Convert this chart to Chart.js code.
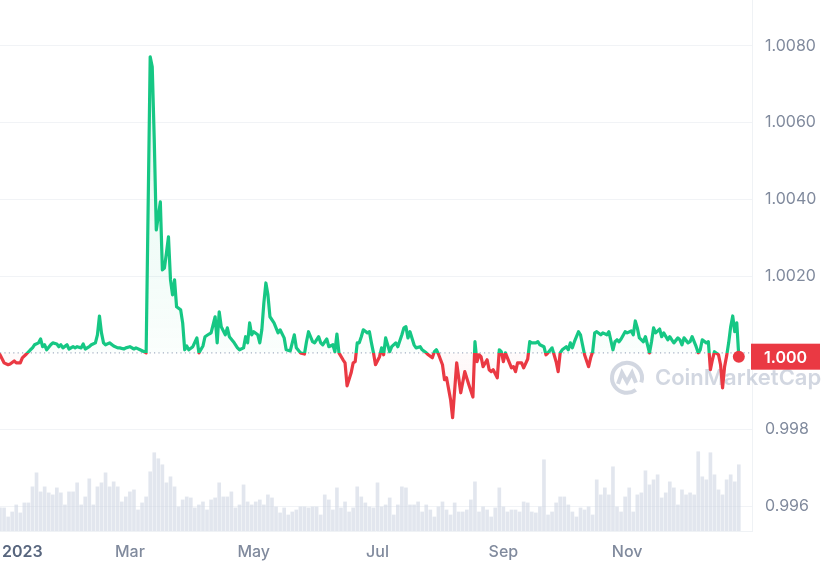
<!DOCTYPE html>
<html>
<head>
<meta charset="utf-8">
<script src="https://cdn.jsdelivr.net/npm/chart.js@4.4.0/dist/chart.umd.min.js"></script>
<style>
  html, body { margin: 0; padding: 0; background: #fff; }
</style>
</head>
<body>
<canvas id="priceChart" width="829" height="570"></canvas>
<script>
// Price history, day 0 = 1 Jan 2023
const baseline = 1.000;

const priceDays = [
  -5, -3, -1, 0, 2, 3, 5, 6, 8, 10,
  11, 12, 14, 15, 16, 17, 18, 20, 21, 23,
  24, 25, 26, 28, 29, 31, 32, 33, 35, 36,
  37, 39, 40, 42, 43, 44, 45, 46, 47, 49,
  51, 53, 54, 56, 57, 59, 61, 62, 64, 66,
  67, 69, 70, 71, 72, 74, 75, 76, 77, 78,
  79, 80, 81, 82, 84, 85, 86, 87, 88, 90,
  92, 93, 95, 96, 98, 99, 101, 102, 103, 104,
  106, 107, 108, 110, 112, 113, 115, 116, 117, 118,
  119, 120, 122, 123, 124, 125, 126, 127, 128, 130,
  132, 133, 135, 136, 138, 140, 141, 143, 145, 146,
  147, 149, 150, 152, 153, 154, 156, 157, 159, 160,
  161, 162, 164, 165, 166, 168, 169, 170, 171, 172,
  173, 174, 176, 177, 178, 179, 180, 182, 183, 184,
  185, 187, 188, 190, 191, 193, 194, 195, 196, 197,
  199, 200, 202, 203, 205, 206, 208, 209, 210, 211,
  213, 214, 215, 217, 218, 220, 222, 224, 226, 228,
  229, 230, 231, 232, 233, 235, 236, 237, 238, 240,
  241, 242, 243, 244, 246, 247, 248, 249, 250, 252,
  253, 255, 256, 257, 259, 260, 261, 263, 264, 265,
  267, 269, 270, 271, 272, 274, 275, 276, 277, 278,
  280, 281, 282, 283, 285, 286, 287, 288, 289, 291,
  292, 294, 295, 297, 298, 299, 300, 301, 303, 304,
  306, 307, 308, 309, 310, 312, 313, 315, 316, 317,
  318, 320, 321, 322, 324, 325, 326, 327, 329, 330,
  331, 332, 334, 335, 336, 338, 339, 340, 341, 343,
  344, 345, 346, 347, 349, 350, 351, 352, 353, 354,
  355, 356, 357, 358, 359
];

const prices = [
  0.99995, 0.99974, 0.99969, 0.99971, 0.99979, 0.99974, 0.99974, 0.99987, 0.99997, 1.00008,
  1.00013, 1.00021, 1.00026, 1.00036, 1.00016, 1.00021, 1.00008, 1.00021, 1.00026, 1.00023,
  1.00016, 1.00021, 1.00013, 1.00021, 1.0001, 1.00016, 1.00013, 1.00016, 1.00013, 1.00023,
  1.0001, 1.00016, 1.00021, 1.00026, 1.00047, 1.00096, 1.00052, 1.00026, 1.00021, 1.00026,
  1.00018, 1.00013, 1.00013, 1.0001, 1.00013, 1.00016, 1.0001, 1.00013, 1.00008, 1.00003,
  1.0, 1.00771, 1.00745, 1.00555, 1.0032, 1.00393, 1.00216, 1.00221, 1.0026, 1.00302,
  1.0019, 1.00151, 1.0019, 1.0012, 1.00112, 1.00078, 1.00008, 1.00018, 1.00008, 1.00016,
  1.00039, 1.0, 1.00018, 1.00042, 1.00049, 1.00052, 1.00094, 1.00026, 1.00107, 1.00068,
  1.00047, 1.00065, 1.00042, 1.00029, 1.00013, 1.00008, 1.00013, 1.00042, 1.00026, 1.00078,
  1.00047, 1.00055, 1.00047, 1.00026, 1.0006, 1.0013, 1.00182, 1.00151, 1.00094, 1.00078,
  1.00052, 1.0006, 1.00039, 1.00008, 1.00005, 1.00047, 1.00013, 1.0, 0.99997, 1.00029,
  1.00055, 1.00029, 1.00026, 1.00042, 1.00026, 1.00021, 1.00036, 1.00016, 1.00021, 1.00003,
  1.00049, 1.0, 0.99982, 0.99974, 0.99914, 0.99948, 0.99974, 0.99977, 1.00026, 1.00026,
  1.00042, 1.0006, 1.00052, 1.00055, 1.00026, 1.0, 0.99969, 0.9999, 1.00013, 0.99995,
  1.00039, 1.00003, 1.00016, 1.00026, 1.00016, 1.00047, 1.00065, 1.00068, 1.00039, 1.00055,
  1.00021, 1.00013, 1.00016, 1.00008, 1.0, 0.99995, 0.99987, 1.00003, 1.00008, 0.99997,
  0.99969, 0.9993, 0.99935, 0.99878, 0.99831, 0.99974, 0.99896, 0.99951, 0.99917, 0.99885,
  1.00029, 0.99977, 0.99995, 0.9999, 0.99964, 0.99982, 0.99956, 0.99951, 0.99956, 0.99935,
  1.00008, 1.00003, 0.99977, 1.0, 0.99974, 0.99961, 0.99964, 0.99951, 0.99974, 0.99974,
  0.99961, 0.99984, 1.00029, 1.00026, 1.00026, 1.00029, 1.00021, 1.00016, 0.99995, 1.0,
  1.00013, 0.99977, 0.99951, 1.0, 1.00008, 1.00016, 1.00008, 1.00026, 1.00013, 1.00029,
  1.00055, 1.00047, 1.00021, 0.99995, 0.99964, 0.99987, 1.00003, 1.00052, 1.00055, 1.00047,
  1.00052, 1.00047, 1.00055, 1.00008, 1.00029, 1.00034, 1.00029, 1.00036, 1.00055, 1.00052,
  1.00057, 1.00047, 1.00083, 1.00065, 1.00039, 1.00029, 1.00042, 1.0, 1.00029, 1.00065,
  1.00052, 1.00062, 1.00042, 1.00052, 1.00034, 1.00042, 1.00034, 1.00026, 1.00039, 1.00034,
  1.00021, 1.00039, 1.00026, 1.00029, 1.00042, 1.00016, 1.0, 1.00008, 1.00034, 1.00026,
  1.00029, 0.99956, 0.99982, 1.00003, 0.99995, 0.99969, 0.99909, 0.99964, 0.99992, 1.00026,
  1.00068, 1.00096, 1.00055, 1.00078, 0.9999
];

// Volume (bn USD), one bar every other day starting 27 Dec 2022
const volumes = [
  23, 23, 14, 19, 26, 18, 28, 28, 44, 58,
  39, 44, 38, 36, 43, 38, 26, 39, 39, 48,
  26, 34, 52, 26, 44, 48, 58, 44, 49, 44,
  29, 34, 39, 41, 21, 28, 34, 59, 78, 72,
  66, 48, 54, 44, 24, 31, 34, 33, 23, 26,
  29, 21, 31, 33, 48, 34, 34, 39, 23, 26,
  46, 29, 26, 29, 31, 26, 36, 33, 24, 18,
  23, 16, 19, 21, 24, 24, 23, 24, 24, 16,
  36, 31, 21, 43, 23, 29, 19, 23, 44, 34,
  28, 24, 23, 48, 24, 26, 33, 16, 26, 44,
  43, 26, 26, 29, 19, 26, 21, 14, 24, 29,
  21, 16, 28, 19, 19, 21, 31, 49, 19, 24,
  21, 14, 23, 43, 24, 19, 21, 21, 19, 29,
  28, 19, 18, 24, 71, 16, 19, 28, 34, 34,
  26, 19, 14, 23, 21, 24, 16, 51, 36, 43,
  36, 64, 24, 19, 34, 43, 19, 36, 38, 60,
  46, 51, 56, 33, 38, 49, 43, 26, 41, 36,
  38, 36, 79, 54, 51, 78, 56, 41, 36, 51,
  56, 49, 66
];
const volumeDays = volumes.map((_, i) => -5 + 2 * i);

// Axis ticks
const xTickDays = [6, 59, 120, 181, 243, 304];   // "2023" label nudged right like the original
const xTickLabels = ['2023', 'Mar', 'May', 'Jul', 'Sep', 'Nov'];
const yTicks = [0.996, 0.998, 1.000, 1.002, 1.004, 1.006, 1.008];

const GREEN = '#16c784';
const RED = '#ea3943';

function splitGradient(chart, above, below) {
    const { ctx, chartArea, scales } = chart;
    if (!chartArea) return above[0];
    const p = scales.y.getPixelForValue(baseline);
    let r = (p - chartArea.top) / (chartArea.bottom - chartArea.top);
    r = Math.min(Math.max(r, 0), 1);
    const g = ctx.createLinearGradient(0, chartArea.top, 0, chartArea.bottom);
    g.addColorStop(0, above[0]);
    g.addColorStop(r, above[1]);
    g.addColorStop(r, below[0]);
    g.addColorStop(1, below[1]);
    return g;
}

// dotted baseline, watermark and price badge
const decorPlugin = {
    id: 'decor',
    beforeDatasetsDraw(chart) {
        const { ctx, chartArea: a, scales: { y } } = chart;
        const py = y.getPixelForValue(baseline);
        ctx.save();
        ctx.strokeStyle = '#a6b0c3';
        ctx.lineWidth = 1.2;
        ctx.setLineDash([1.2, 3.2]);
        ctx.beginPath();
        ctx.moveTo(a.left, py);
        ctx.lineTo(a.right, py);
        ctx.stroke();
        ctx.setLineDash([]);

        // watermark
        const wm = 'rgba(166,176,195,0.5)';
        const lx = a.right - 125, ly = py + 25;
        ctx.strokeStyle = wm;
        ctx.lineWidth = 4;
        ctx.beginPath();
        ctx.arc(lx, ly, 15, 0.3 * Math.PI, 2.1 * Math.PI);
        ctx.stroke();
        ctx.beginPath();
        ctx.moveTo(lx - 9, ly + 6);
        ctx.lineTo(lx - 5, ly - 5);
        ctx.lineTo(lx, ly + 4);
        ctx.lineTo(lx + 5, ly - 5);
        ctx.lineTo(lx + 9, ly + 5);
        ctx.stroke();
        ctx.fillStyle = wm;
        ctx.font = '600 22px Inter';
        ctx.textAlign = 'left';
        ctx.textBaseline = 'middle';
        ctx.fillText('CoinMarketCap', a.right - 97, ly + 1);
        ctx.restore();
    },
    afterDraw(chart) {
        const { ctx, chartArea: a, scales: { y } } = chart;
        const last = prices[prices.length - 1];
        const py = y.getPixelForValue(last);
        ctx.save();
        ctx.fillStyle = RED;
        ctx.fillRect(a.right - 1, py - 13, 69, 26);
        ctx.fillStyle = '#ffffff';
        ctx.font = '600 16px Inter';
        ctx.textAlign = 'center';
        ctx.textBaseline = 'middle';
        ctx.fillText(last.toFixed(3), a.right + 33.5, py + 1);
        ctx.restore();
    }
};

function initializePriceChart() {
    const canvas = document.getElementById('priceChart');
    const ctx = canvas.getContext('2d');
    Chart.defaults.font.family = "Inter, 'Noto Sans', sans-serif";

    const volMax = Math.max(...volumes) * 6.7;

    new Chart(ctx, {
        type: 'line',
        data: {
            datasets: [
                {
                    type: 'line',
                    data: priceDays.map((d, i) => ({ x: d, y: prices[i] })),
                    borderWidth: 3.2,
                    tension: 0,
                    borderJoinStyle: 'round',
                    borderCapStyle: 'round',
                    borderColor: c => splitGradient(c.chart, [GREEN, GREEN], [RED, RED]),
                    backgroundColor: c => splitGradient(c.chart,
                        ['rgba(22,199,132,0.16)', 'rgba(22,199,132,0.02)'],
                        ['rgba(234,57,67,0.02)', 'rgba(234,57,67,0.18)']),
                    fill: { value: baseline },
                    pointRadius: c => c.dataIndex === prices.length - 1 ? 6 : 0,
                    pointBackgroundColor: RED,
                    pointBorderWidth: 0,
                    pointHoverRadius: 0,
                    order: 1
                },
                {
                    type: 'bar',
                    data: volumeDays.map((d, i) => ({ x: d, y: volumes[i] })),
                    yAxisID: 'yv',
                    backgroundColor: 'rgba(207,213,227,0.6)',
                    barThickness: 3,
                    order: 2
                }
            ]
        },
        options: {
            responsive: false,
            animation: false,
            events: [],
            layout: { padding: 0, autoPadding: false },
            plugins: {
                legend: { display: false },
                tooltip: { enabled: false }
            },
            scales: {
                x: {
                    type: 'linear',
                    min: -5,
                    max: 365.5,
                    offset: false,
                    grid: { display: false, drawTicks: false, offset: false },
                    border: { display: true, color: '#eff2f5' },
                    afterBuildTicks: s => { s.ticks = xTickDays.map(v => ({ value: v })); },
                    afterFit: s => { s.height = 39; s.paddingLeft = 0; s.paddingRight = 0; },
                    ticks: {
                        padding: 12,
                        autoSkip: false,
                        maxRotation: 0,
                        font: c => ({ size: 16, weight: c.index === 0 ? '600' : '500' }),
                        color: c => c.index === 0 ? '#58667e' : '#808a9d',
                        callback: (v, i) => xTickLabels[i]
                    }
                },
                y: {
                    position: 'right',
                    min: 0.99536,
                    max: 1.00919,
                    afterBuildTicks: s => { s.ticks = yTicks.map(v => ({ value: v })); },
                    afterFit: s => { s.width = 77; s.paddingTop = 0; s.paddingBottom = 0; },
                    grid: {
                        color: c => (c.tick && c.tick.value === baseline) ? 'rgba(0,0,0,0)' : '#f1f3f6',
                        drawTicks: false
                    },
                    border: { display: true, color: '#eff2f5' },
                    ticks: {
                        padding: 13,
                        color: '#808a9d',
                        font: { size: 16 },
                        callback: v => v === baseline ? '' : (v > 1 ? v.toFixed(4) : v.toFixed(3))
                    }
                },
                yv: { display: false, min: 0, max: volMax }
            }
        },
        plugins: [decorPlugin]
    });
}

initializePriceChart();
</script>
</body>
</html>
